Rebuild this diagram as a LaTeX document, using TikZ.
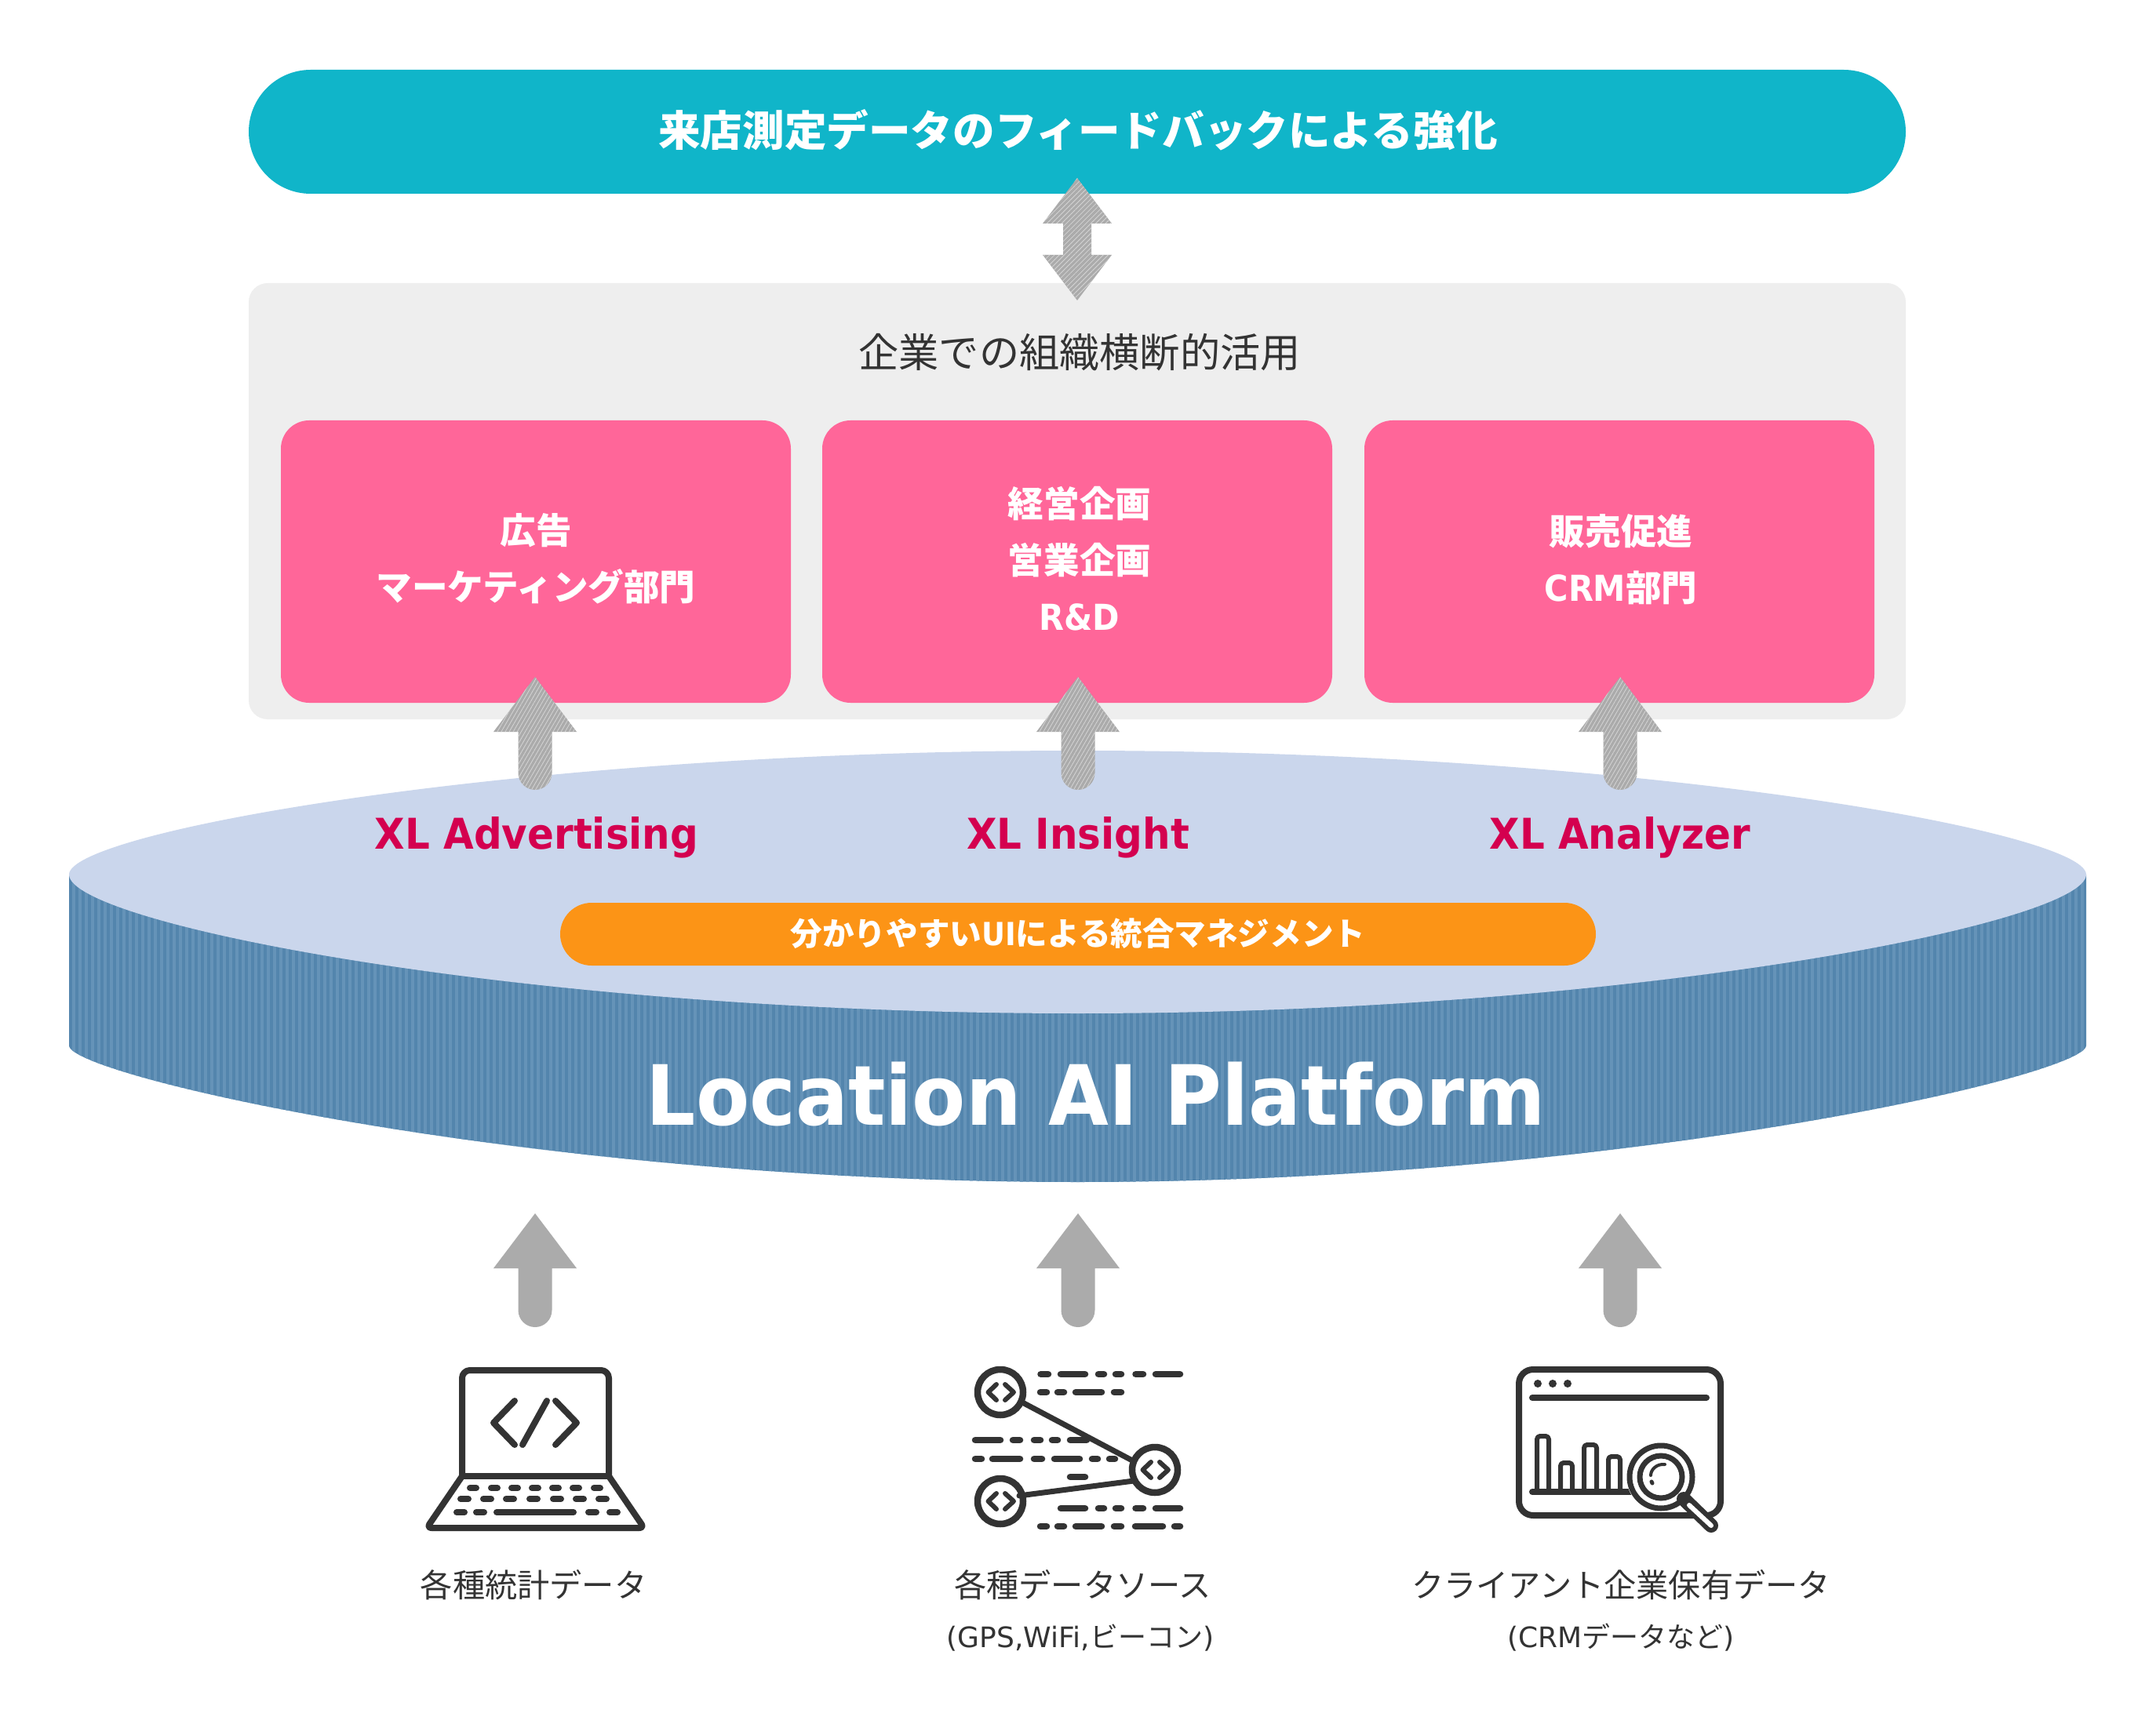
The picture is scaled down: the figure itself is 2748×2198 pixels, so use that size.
\documentclass[tikz,border=0pt]{standalone}
\usepackage{fontspec}
\usetikzlibrary{patterns.meta}
\setmainfont{Noto Sans CJK JP}
\newfontfamily\lat{DejaVu Sans}
\newfontfamily\latn[FakeStretch=0.91]{DejaVu Sans}
\newfontfamily\latx[FakeStretch=0.925]{DejaVu Sans}
\newfontfamily\latp[FakeStretch=0.937]{DejaVu Sans}
\definecolor{teal}{HTML}{10B5C9}
\definecolor{panel}{HTML}{EEEEEE}
\definecolor{pink}{HTML}{FF6699}
\definecolor{disktop}{HTML}{CAD6EC}
\definecolor{sideA}{HTML}{5385AD}
\definecolor{sideB}{HTML}{6593B8}
\definecolor{orangepill}{HTML}{FC9416}
\definecolor{crim}{HTML}{D4004F}
\definecolor{ink}{HTML}{333333}
\definecolor{arrowgray}{HTML}{ABABAB}
\tikzset{
  pillbox/.style={fill=teal,rounded corners=39.5pt,minimum width=1056pt,minimum height=79pt,inner sep=0pt},
  panelbox/.style={fill=panel,rounded corners=12pt,minimum width=1056pt,minimum height=278pt,inner sep=0pt},
  pinkbox/.style={fill=pink,rounded corners=18pt,minimum width=325pt,minimum height=180pt,inner sep=0pt},
  orangebox/.style={fill=orangepill,rounded corners=20pt,minimum width=660pt,minimum height=40pt,inner sep=0pt},
  wlabel/.style={text=white,font=\bfseries\fontsize{22.8}{36}\selectfont,align=center,inner sep=0pt},
  xllabel/.style={text=crim,font=\latx\bfseries\fontsize{27}{32}\selectfont,inner sep=0pt},
  glabel/.style={text=ink,font=\fontsize{20.6}{26}\selectfont,inner sep=0pt},
  subl/.style={text=ink,font=\fontsize{18}{22}\selectfont,inner sep=0pt},
  ic/.style={draw=ink,line width=4pt,line cap=round,line join=round},
  dashic/.style={draw=ink,line width=4.25pt,line cap=round},
  chev/.style={draw=ink,line width=3pt,line cap=round,line join=round},
  hatched/.style={fill=arrowgray},
  hatchover/.style={pattern={Lines[angle=45,distance=2.2pt,line width=0.4pt]},pattern color=white!50!arrowgray},
}
\newcommand{\uparrowshape}[4]{% x, tip, base, bottom
  (#1,#2) -- (#1+53,#3) -- (#1+21.5,#3) -- (#1+21.5,#4-21.5)
  arc[start angle=0,end angle=180,radius=21.5]
  -- (#1-21.5,#3) -- (#1-53,#3) -- cycle}
\begin{document}
\begin{tikzpicture}[x=0.5pt,y=-0.5pt]
\useasboundingbox (0,0) rectangle (2748,2198);
\fill[white] (0,0) rectangle (2748,2198);

% top pill and panel
\node[pillbox] (feedback) at (1373,168) {};
\node[text=white,font=\bfseries\fontsize{26.8}{30}\selectfont,inner sep=0pt] (feedbacktext) at (1374,166) {来店測定データのフィードバックによる強化};
\node[panelbox] (panel) at (1373,639) {};
\node[text=ink,font=\fontsize{25.6}{30}\selectfont,inner sep=0pt] (paneltitle) at (1376,449) {企業での組織横断的活用};

% pink boxes
\node[pinkbox] (adv) at (683,716) {};
\node[pinkbox] (ins) at (1373,716) {};
\node[pinkbox] (ana) at (2064,716) {};
\node[wlabel] (advt) at (683,712) {広告\\マーケティング部門};
\node[wlabel] (inst) at (1376,712) {経営企画\\営業企画\\{\latn R\&D}};
\node[wlabel] (anat) at (2066,713) {販売促進\\{\latn CRM}部門};

% disk
\begin{scope}
\clip (88,1115) -- (88,1333)
  .. controls (88,1371) and (679,1507) .. (1373.5,1507)
  .. controls (2068,1507) and (2659,1371) .. (2659,1333)
  -- (2659,1115) -- cycle;
\fill[sideA] (88,1100) rectangle (2660,1520);
\foreach \k in {0,...,321}{
  \fill[sideB] ({92+8*\k},1100) rectangle ({96+8*\k},1520);
}
\end{scope}
\fill[disktop] (88,1115)
  .. controls (88,1177) and (666,1292) .. (1373.5,1292)
  .. controls (2081,1292) and (2659,1177) .. (2659,1115)
  .. controls (2659,1060) and (2081,957) .. (1373.5,957)
  .. controls (666,957) and (88,1060) .. (88,1115) -- cycle;

% orange pill
\node[orangebox] (ui) at (1374,1191) {};
\node[text=white,font=\bfseries\fontsize{20.3}{24}\selectfont,inner sep=0pt] (uit) at (1374,1190) {分かりやすい{\latn UI}による統合マネジメント};

% disk labels
\node[xllabel] (xla) at (684,1068) {XL Advertising};
\node[xllabel] (xli) at (1374,1068) {XL Insight};
\node[xllabel] (xlz) at (2065,1068) {XL Analyzer};
\node[text=white,font=\latp\bfseries\fontsize{53}{60}\selectfont,inner sep=0pt] (platform) at (1397,1395) {Location AI Platform};

% double arrow
\path[hatched] (1373,227) -- (1417,285) -- (1391,285) -- (1391,325) -- (1417,325) -- (1373,383) -- (1329,325) -- (1355,325) -- (1355,285) -- (1329,285) -- cycle;
\path[hatchover] (1373,227) -- (1417,285) -- (1391,285) -- (1391,325) -- (1417,325) -- (1373,383) -- (1329,325) -- (1355,325) -- (1355,285) -- (1329,285) -- cycle;

% hatched up arrows
\foreach \ax in {682,1374,2065}{
  \path[hatched] \uparrowshape{\ax}{863}{933}{1007};
  \path[pattern={Lines[angle=60,distance=2.2pt,line width=0.4pt]},pattern color=white!50!arrowgray] \uparrowshape{\ax}{863}{933}{1007};
}
% plain up arrows
\foreach \ax in {682,1374,2065}{
  \fill[arrowgray] \uparrowshape{\ax}{1547}{1617}{1692};
}

% laptop icon
\draw[ic,rounded corners=5pt] (589,1882) -- (589,1747) -- (776,1747) -- (776,1882);
\draw[ic] (589,1882) -- (776,1882);
\draw[ic,rounded corners=3pt] (589,1882) -- (544,1948) -- (821,1948) -- (776,1882);
\draw[ic] (656,1786) -- (629,1814) -- (656,1842);
\draw[ic] (697,1786) -- (666,1842);
\draw[ic] (708,1786) -- (735,1814) -- (708,1842);
\foreach \kx in {603,630,656,682,708,734,761}{\draw[ic] (\kx-4,1897) -- (\kx+4,1897);}
\foreach \kx in {592,621,650,680,710,739,768}{\draw[ic] (\kx-5,1911) -- (\kx+5,1911);}
\foreach \kx in {587,612,755,782}{\draw[ic] (\kx-5,1928) -- (\kx+5,1928);}
\draw[ic] (633,1928) -- (731,1928);

% data source icon
\draw[draw=ink,line width=3.5pt,line cap=round] (1305,1789) -- (1445,1863);
\draw[draw=ink,line width=3.5pt,line cap=round] (1299,1907) -- (1445,1888);
\foreach \cx/\cy in {1275/1775,1275/1914,1472/1874}{
  \draw[draw=ink,line width=4.25pt] (\cx,\cy) circle (29);
  \draw[chev] (\cx-5,\cy-10) -- (\cx-15.5,\cy) -- (\cx-5,\cy+10);
  \draw[chev] (\cx+6,\cy-10) -- (\cx+17,\cy) -- (\cx+6,\cy+10);
}
\foreach \a/\b/\y in {
  1326.5/1336/1752,1352/1383/1752,1400/1407/1752,1422/1429/1752,1447.5/1457/1752,1473/1504/1752,
  1326/1334/1775,1348/1356/1775,1371/1404/1775,1420/1429/1775,
  1243/1275/1836,1291/1300/1836,1318/1326/1836,1341/1348/1836,1364/1385/1836,
  1243/1251/1860,1265/1300/1860,1318/1328/1860,1344/1376/1860,1392/1399/1860,1414/1421/1860,
  1364/1383/1883,
  1352/1383/1923,1400/1407/1923,1422/1429/1923,1447.5/1457/1923,1473/1504/1923,
  1326/1334/1946,1348/1356/1946,1371/1404/1946,1420/1429/1946,1447/1482/1946,1497/1504/1946}{
  \draw[dashic] (\a,\y) -- (\b,\y);
}

% browser / analysis icon
\draw[ic,rounded corners=9pt] (1936,1746) rectangle (2193,1932);
\foreach \dx in {1960,1979,1998}{\fill[ink] (\dx,1764) circle (5);}
\draw[ic] (1953,1782) -- (2175,1782);
\foreach \xa/\xb/\yt in {1959/1974/1831,1989/2004/1865,2019/2035/1842,2050/2065/1857}{
  \draw[chev,rounded corners=2pt] (\xa,1902) -- (\xa,\yt) -- (\xb,\yt) -- (\xb,1902);
}
\draw[ic] (1953,1902) -- (2085,1902);
\fill[white] (2117,1883) circle (44);
\draw[draw=ink,line width=3.5pt] (2117,1883) circle (40);
\draw[draw=ink,line width=3.5pt] (2117,1883) circle (27);
\draw[draw=ink,line width=2pt,line cap=round] (2122,1867) .. controls (2111,1866) and (2104,1874) .. (2104,1881);
\draw[draw=ink,line width=2.5pt,line cap=round] (2105,1889) -- (2106,1891);
\draw[draw=ink,line width=9pt,line cap=round] (2146,1911) -- (2181,1945);
\draw[draw=white,line width=3pt,line cap=round] (2153,1919) -- (2181,1945);

% source labels
\node[glabel] (l1) at (680,2021) {各種統計データ};
\node[glabel] (l2) at (1380,2021) {各種データソース};
\node[glabel] (l3) at (2066,2021) {クライアント企業保有データ};
\node[subl] (s2) at (1377,2088) {{\lat (GPS,WiFi,}ビーコン{\lat )}};
\node[subl] (s3) at (2066,2088) {{\lat (CRM}データなど{\lat )}};
\end{tikzpicture}
\end{document}
